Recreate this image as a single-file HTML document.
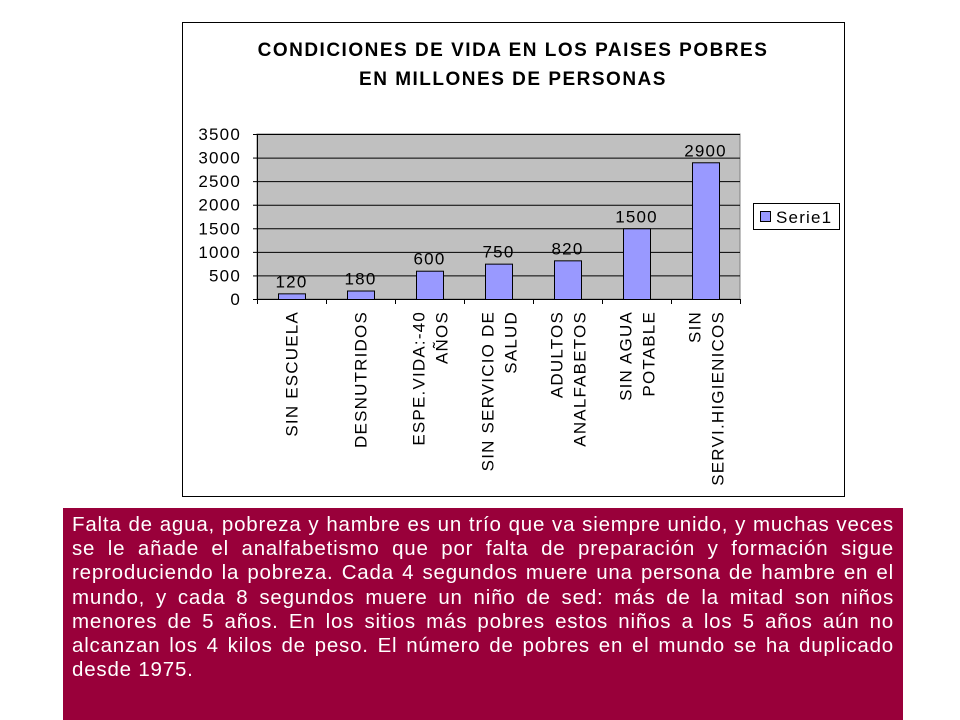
<!DOCTYPE html>
<html><head><meta charset="utf-8"><style>
body{margin:0;width:960px;height:720px;background:#fff;position:relative;overflow:hidden;font-family:"Liberation Sans",Arial,sans-serif}
#txt{position:absolute;left:63px;top:508px;width:840px;height:212px;background:#99003a;box-sizing:border-box;padding:5px 9px 0 9px;color:#fff;font-size:20.5px;letter-spacing:0.8px;line-height:24.2px;text-align:justify}
svg text{letter-spacing:1.2px}
</style></head><body>
<svg width="960" height="510" style="position:absolute;left:0;top:0">
<rect x="182.5" y="22.5" width="662" height="474" fill="#fff" stroke="#000"/>
<text x="513" y="56" text-anchor="middle" font-weight="bold" font-size="19" style="letter-spacing:1.5px">CONDICIONES DE VIDA EN LOS PAISES POBRES</text>
<text x="513" y="85" text-anchor="middle" font-weight="bold" font-size="19" style="letter-spacing:1.5px">EN MILLONES DE PERSONAS</text>
<g id="plot"></g>
<rect x="753.5" y="203.5" width="86" height="26" fill="#fff" stroke="#000"/>
<rect x="760.5" y="211.5" width="10" height="10" fill="#9999ff" stroke="#000"/>
<text x="776" y="223" font-size="17">Serie1</text>
</svg>
<div id="txt">Falta de agua, pobreza y hambre es un trío que va siempre unido, y muchas veces se le añade el analfabetismo que por falta de preparación y formación sigue reproduciendo la pobreza. Cada 4 segundos muere una persona de hambre en el mundo, y cada 8 segundos muere un niño de sed: más de la mitad son niños menores de 5 años. En los sitios más pobres estos niños a los 5 años aún no alcanzan los 4 kilos de peso. El número de pobres en el mundo se ha duplicado desde 1975.</div>
<script>
const categories=[["SIN ESCUELA"],["DESNUTRIDOS"],["ESPE.VIDA:-40","AÑOS"],["SIN SERVICIO DE","SALUD"],["ADULTOS","ANALFABETOS"],["SIN AGUA","POTABLE"],["SIN","SERVI.HIGIENICOS"]];
const values=[120,180,600,750,820,1500,2900];
const ticks=[0,500,1000,1500,2000,2500,3000,3500];
const L=257,R=740,T=134,B=299,max=3500;
const ns="http://www.w3.org/2000/svg";
const g=document.getElementById('plot');
const y=v=>B-(v/max)*(B-T);
const bw=(R-L)/categories.length;
const xc=i=>L+bw*(i+0.5);
function mk(t,a,p){const e=document.createElementNS(ns,t);for(const k in a)e.setAttribute(k,a[k]);(p||g).appendChild(e);return e;}
let bg=mk('rect',{x:L,y:T,width:R-L,height:B-T,fill:'#c0c0c0',stroke:'#808080'});


ticks.forEach(t=>{
 if(t>0){let l=mk('line',{x1:L,x2:R,y1:y(t)+.5,y2:y(t)+.5,stroke:'#000'});
 
 }
 let tk=mk('line',{x1:L-4,x2:L,y1:y(t)+.5,y2:y(t)+.5,stroke:'#000'});
 
 
 let tx=mk('text',{x:L-16,y:y(t)+6,'text-anchor':'end','font-size':'17'});tx.textContent=t;
 
 
});
let ax=mk('line',{x1:L+.5,x2:L+.5,y1:T,y2:B,stroke:'#000'});


let xa=mk('line',{x1:L,x2:R,y1:B+.5,y2:B+.5,stroke:'#000'});


for(let i=0;i<=categories.length;i++){let t=mk('line',{x1:L+bw*i+.5,x2:L+bw*i+.5,y1:B,y2:B+5,stroke:'#000'});
 
 }
values.forEach((v,i)=>{
 let r=mk('rect',{x:xc(i)-13.5+.5,y:y(v)+.5,width:27,height:B-y(v),fill:'#9999ff',stroke:'#000'});
 
 
 let t=mk('text',{x:xc(i),y:y(v)-6,'text-anchor':'middle','font-size':'17'});t.textContent=v;
 
 
 const lines=categories[i];
 lines.forEach((s,j)=>{
  const off=lines.length===1?0:(j===0?-11:12);
  const xx=xc(i)+off+6;
  let c=mk('text',{x:xx,y:311,'text-anchor':'end','font-size':'17',transform:`rotate(-90 ${xx} 311)`});
  c.textContent=s;
  
  
 });
});
</script>
</body></html>
